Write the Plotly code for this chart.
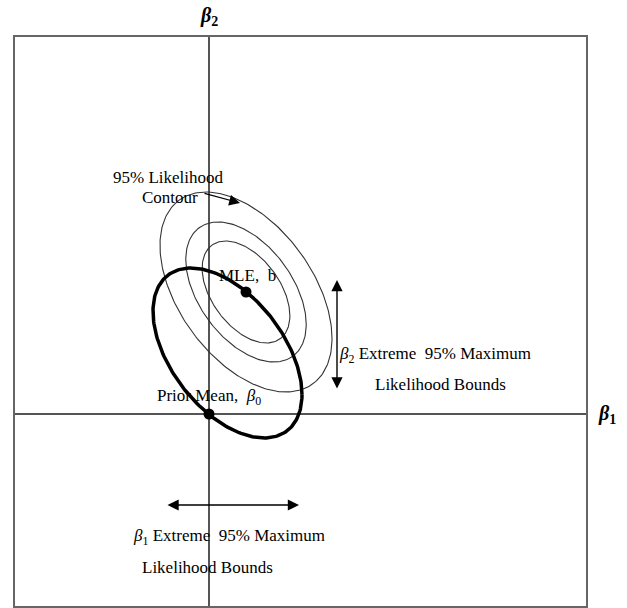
import numpy as np
import plotly.graph_objects as go

# ---- values (data units: 1 unit = 100 px) ----
prior_mean = [0.0, 0.0]
mle = [0.37, 1.22]
lik_cov = [[0.74, -0.40], [-0.40, 1.00]]        # likelihood contour shape
lik_scales = [0.51, 0.70, 1.00]                 # the three likelihood contours
post_center = [0.185, 0.61]
post_cov = [[0.555, -0.31], [-0.31, 0.7225]]    # thick (95% prior) ellipse
b2_bounds_x = 1.28
b2_bounds = [0.24, 1.34]
b1_bounds_y = -0.91
b1_bounds = [-0.43, 0.90]
x_range = [-1.94, 3.77]
y_range = [-1.92, 3.77]

label_text = [
    "95% Likelihood",
    "Contour",
    "MLE,  b",
    "Prior Mean,  <i>β</i><sub>0</sub>",
    "<i>β</i><sub>2</sub> Extreme  95% Maximum",
    "Likelihood Bounds",
    "<i>β</i><sub>1</sub> Extreme  95% Maximum",
    "Likelihood Bounds",
]
label_x = [-0.41, -0.39, 0.38, 0.0, 2.26, 2.31, 0.20, -0.015]
label_y = [2.37, 2.17, 1.39, 0.17, 0.59, 0.30, -1.23, -1.53]

axis_label_text = ["<b><i>β</i><sub>2</sub></b>", "<b><i>β</i><sub>1</sub></b>"]

FONT = "Liberation Serif"
LABEL_SIZE = 17
AXIS_LABEL_SIZE = 20


def ellipse(center, cov, scale=1.0, n=241):
    L = np.linalg.cholesky(np.array(cov))
    t = np.linspace(0, 2 * np.pi, n)
    u = np.vstack([np.cos(t), np.sin(t)])
    pts = scale * (L @ u)
    return center[0] + pts[0], center[1] + pts[1]


fig = go.Figure()

for s in lik_scales:
    ex, ey = ellipse(mle, lik_cov, s)
    fig.add_trace(go.Scatter(x=ex, y=ey, mode="lines",
                             line=dict(color="#333333", width=1.1),
                             hoverinfo="skip", showlegend=False))

ex, ey = ellipse(post_center, post_cov)
fig.add_trace(go.Scatter(x=ex, y=ey, mode="lines",
                         line=dict(color="black", width=3.5),
                         hoverinfo="skip", showlegend=False))

fig.add_trace(go.Scatter(x=[prior_mean[0], mle[0]], y=[prior_mean[1], mle[1]],
                         mode="markers", marker=dict(color="black", size=11),
                         hoverinfo="skip", showlegend=False))

ann = []
# double arrows
ann.append(dict(x=b2_bounds_x, y=b2_bounds[1], ax=b2_bounds_x, ay=b2_bounds[0],
                xref="x", yref="y", axref="x", ayref="y", text="",
                showarrow=True, arrowhead=2, arrowside="end+start",
                arrowsize=1.6, arrowwidth=1.4, arrowcolor="black"))
ann.append(dict(x=b1_bounds[1], y=b1_bounds_y, ax=b1_bounds[0], ay=b1_bounds_y,
                xref="x", yref="y", axref="x", ayref="y", text="",
                showarrow=True, arrowhead=2, arrowside="end+start",
                arrowsize=1.6, arrowwidth=1.4, arrowcolor="black"))
# contour pointer arrow
ann.append(dict(x=0.31, y=2.11, ax=-0.06, ay=2.21,
                xref="x", yref="y", axref="x", ayref="y", text="",
                showarrow=True, arrowhead=2, arrowsize=1.8, arrowwidth=1.2,
                arrowcolor="black"))

for x, y, t in zip(label_x, label_y, label_text):
    ann.append(dict(x=x, y=y, xref="x", yref="y", text=t, showarrow=False,
                    xanchor="center", yanchor="middle",
                    font=dict(family=FONT, size=LABEL_SIZE, color="black")))

# axis labels (outside the plotting box)
ann.append(dict(x=0, y=1.0, xref="x", yref="paper", yshift=6, showarrow=False,
                xanchor="center", yanchor="bottom", text=axis_label_text[0],
                font=dict(family=FONT, size=AXIS_LABEL_SIZE, color="black")))
ann.append(dict(x=1.0, y=0, xref="paper", yref="y", xshift=10, showarrow=False,
                xanchor="left", yanchor="middle", text=axis_label_text[1],
                font=dict(family=FONT, size=AXIS_LABEL_SIZE, color="black")))

axis_common = dict(showgrid=False, showticklabels=False, ticks="",
                   zeroline=True, zerolinecolor="#555555", zerolinewidth=1.6,
                   showline=True, mirror=True, linecolor="#666666", linewidth=1.6)

fig.update_layout(
    width=627, height=608,
    margin=dict(l=15, r=41, t=37, b=2),
    font=dict(family=FONT, size=LABEL_SIZE, color="black"),
    paper_bgcolor="white", plot_bgcolor="white",
    xaxis=dict(range=x_range, **axis_common),
    yaxis=dict(range=y_range, **axis_common),
    annotations=ann,
    showlegend=False,
)

fig.write_html("out.html", config={"displayModeBar": False},
               post_script="document.body.style.margin='0';"
                           "document.body.style.overflow='hidden';")
